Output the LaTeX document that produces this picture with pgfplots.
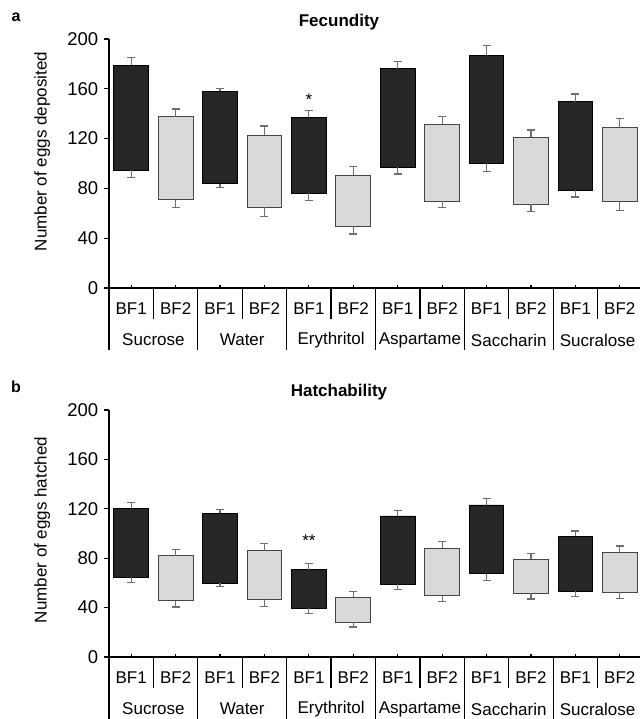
\documentclass[border=0pt]{standalone}
\usepackage{pgfplots}
\usepackage{pgfplotstable}
\pgfplotsset{compat=1.18}
\usepackage{fontspec}
\setmainfont{Liberation Sans}
\definecolor{darkbar}{HTML}{262626}
\definecolor{lightbar}{HTML}{D9D9D9}
\definecolor{lightedge}{HTML}{454545}
\definecolor{errgray}{HTML}{6E6E6E}

% x low high errlow errhigh
\pgfplotstableread{
x low high elo ehi
0 94.8 178.9 88.9 185.0
2 83.8 158.2 80.9 160.4
4 76.3 137.0 70.6 142.7
6 97.2 176.2 91.6 182.1
8 100.4 187.1 93.4 194.6
10 78.7 149.6 73.1 155.8
}\fecdark
\pgfplotstableread{
x low high elo ehi
1 70.9 137.6 64.5 143.8
3 64.8 122.9 57.3 130.1
5 49.8 90.8 43.4 97.4
7 69.9 131.7 64.3 137.9
9 67.2 121.0 61.6 126.9
11 69.3 128.8 62.1 136.3
}\feclight
\pgfplotstableread{
x low high elo ehi
0 64.8 120.4 60.5 124.9
2 59.9 116.6 56.9 119.6
4 39.7 70.7 35.4 75.5
6 59.1 114.2 54.5 118.8
8 67.5 123.1 62.1 128.7
10 53.2 97.7 48.8 102.0
}\hatdark
\pgfplotstableread{
x low high elo ehi
1 45.6 82.0 40.5 86.9
3 46.4 86.1 40.7 91.7
5 28.3 48.6 24.3 53.4
7 49.7 88.3 45.1 93.4
9 51.6 79.1 47.0 84.0
11 52.6 84.8 47.5 89.9
}\hatlight

\newcommand{\fs}{\fontsize{17}{20}\selectfont}

\pgfplotsset{
  geom/.style={
    scale only axis, width=533pt,
    xmin=-0.5, xmax=11.5, ymin=0, ymax=200,
    ybar stacked, bar width=34.7pt,
    clip=false,
  },
  panel/.style={
    geom,
    axis x line*=bottom, axis y line*=left,
    axis line style={line width=1.3pt},
    ytick={0,40,...,200},
    tick align=outside, major tick length=5pt,
    ytick style={line width=1.2pt, black},
    xtick={0,...,11},
    xtick style={draw=none},
    xticklabels={BF1,BF2,BF1,BF2,BF1,BF2,BF1,BF2,BF1,BF2,BF1,BF2},
    xticklabel style={anchor=center, yshift=-16pt, font=\fs},
    yticklabel style={font=\fontsize{18.5}{22}\selectfont},
    /pgf/number format/assume math mode=true,
    every axis y label/.style={rotate=90, anchor=center, font=\fs},
    every axis title/.style={anchor=center, font=\bfseries\fs},
  },
  errstyle/.style={
    error bars/error bar style={draw=errgray, line width=1.1pt, solid},
    error bars/error mark options={rotate=90, mark size=4pt, draw=errgray, line width=1.1pt}},
  base/.style={fill=none, draw=none,
    error bars/y dir=minus, error bars/y explicit, errstyle},
  top/.style={
    error bars/y dir=plus, error bars/y explicit, errstyle},
  decor/.code={
    \pgfplotsinvokeforeach{0,...,11}{\draw[line width=1.2pt] (axis cs:##1,0) -- ++(0pt,3.5pt);}
    \pgfplotsinvokeforeach{0.5,2.5,4.5,6.5,8.5,10.5}{\draw[line width=1.2pt] (axis cs:##1,0) -- ++(0pt,-31pt);}
    \pgfplotsinvokeforeach{-0.5,1.5,3.5,5.5,7.5,9.5,11.5}{\draw[line width=1.2pt] (axis cs:##1,0) -- ++(0pt,-62pt);}
  },
}

\newcommand{\groups}{%
\node[font=\fs] at ([yshift=-52pt]axis cs:0.5,0) {Sucrose};
\node[font=\fs] at ([yshift=-52pt]axis cs:2.5,0) {Water};
\node[font=\fs] at ([yshift=-52pt]axis cs:4.5,0) {Erythritol};
\node[font=\fs] at ([yshift=-52pt]axis cs:6.5,0) {Aspartame};
\node[font=\fs] at ([yshift=-52pt]axis cs:8.5,0) {Saccharin};
\node[font=\fs] at ([yshift=-52pt]axis cs:10.5,0) {Sucralose};
}

\begin{document}
\begin{tikzpicture}
\fs
% ---------------- panel a
\begin{axis}[panel, at={(109pt,-288pt)}, anchor=south west, height=249pt,
  ylabel={Number of eggs deposited},
  ylabel style={at={(axis description cs:-0.1251,0.548)}},
  title={Fecundity},
  title style={at={(axis description cs:0.4315,1.0695)}}]
\addplot[base] table[x=x, y=low, y error minus expr=\thisrow{low}-\thisrow{elo}] {\fecdark};
\addplot[fill=darkbar, draw=black, line width=0.9pt, top] table[x=x, y expr=\thisrow{high}-\thisrow{low}, y error plus expr=\thisrow{ehi}-\thisrow{high}] {\fecdark};
\node[font=\fs] at (axis cs:4,151) {*};
\pgfplotsset{decor}
\groups
\end{axis}
\begin{axis}[geom, hide axis, at={(109pt,-288pt)}, anchor=south west, height=249pt]
\addplot[base] table[x=x, y=low, y error minus expr=\thisrow{low}-\thisrow{elo}] {\feclight};
\addplot[fill=lightbar, draw=lightedge, line width=0.9pt, top] table[x=x, y expr=\thisrow{high}-\thisrow{low}, y error plus expr=\thisrow{ehi}-\thisrow{high}] {\feclight};
\end{axis}
% ---------------- panel b
\begin{axis}[panel, at={(109pt,-657pt)}, anchor=south west, height=247pt,
  ylabel={Number of eggs hatched},
  ylabel style={at={(axis description cs:-0.1251,0.514)}},
  title={Hatchability},
  title style={at={(axis description cs:0.4315,1.074)}}]
\addplot[base] table[x=x, y=low, y error minus expr=\thisrow{low}-\thisrow{elo}] {\hatdark};
\addplot[fill=darkbar, draw=black, line width=0.9pt, top] table[x=x, y expr=\thisrow{high}-\thisrow{low}, y error plus expr=\thisrow{ehi}-\thisrow{high}] {\hatdark};
\node[font=\fs] at (axis cs:4,94.5) {**};
\pgfplotsset{decor}
\groups
\end{axis}
\begin{axis}[geom, hide axis, at={(109pt,-657pt)}, anchor=south west, height=247pt]
\addplot[base] table[x=x, y=low, y error minus expr=\thisrow{low}-\thisrow{elo}] {\hatlight};
\addplot[fill=lightbar, draw=lightedge, line width=0.9pt, top] table[x=x, y expr=\thisrow{high}-\thisrow{low}, y error plus expr=\thisrow{ehi}-\thisrow{high}] {\hatlight};
\end{axis}
\node[font=\bfseries\fontsize{16}{19}\selectfont] at (16pt,-17.3pt) {a};
\node[font=\bfseries\fontsize{16}{19}\selectfont] at (16pt,-386.7pt) {b};
\pgfresetboundingbox
\path[use as bounding box] (0pt,0pt) rectangle (639pt,-719pt);
\end{tikzpicture}
\end{document}
